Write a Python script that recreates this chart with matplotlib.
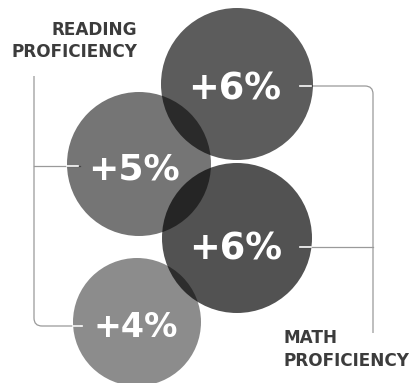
import matplotlib
matplotlib.use("Agg")
import matplotlib.pyplot as plt
from matplotlib.patches import Circle, PathPatch
from matplotlib.path import Path

# ─── data ──────────────────────────────────────────────────────
values   = [6, 5, 6, 4]                      # % gain shown in each bubble
subjects = ["math", "reading", "math", "reading"]
reading_label = ["READING", "PROFICIENCY"]
math_label    = ["MATH", "PROFICIENCY"]

# ─── layout (pixels, y down) ──────────────────────────────────
centers  = [(237, 84), (139, 164), (237, 238), (137, 322)]
radii    = [76, 72, 75, 64]
alphas   = [0.64, 0.54, 0.68, 0.45]
fsizes   = [26.5, 26, 26.5, 24]
text_xy  = [(235, 100), (134, 180), (236, 259), (136, 337)]   # baseline
W, H = 415, 383
LINE = "#9a9a9a"
FONT = "DejaVu Sans"
LABEL_FS = 12.2


def rounded(pts, r=8):
    """polyline with rounded inner corners"""
    verts, codes = [pts[0]], [Path.MOVETO]
    for i in range(1, len(pts) - 1):
        (x0, y0), (x1, y1), (x2, y2) = pts[i - 1], pts[i], pts[i + 1]
        d1 = ((x1 - x0) ** 2 + (y1 - y0) ** 2) ** 0.5
        d2 = ((x2 - x1) ** 2 + (y2 - y1) ** 2) ** 0.5
        a = (x1 - (x1 - x0) / d1 * r, y1 - (y1 - y0) / d1 * r)
        b = (x1 + (x2 - x1) / d2 * r, y1 + (y2 - y1) / d2 * r)
        verts += [a, (x1, y1), b]
        codes += [Path.LINETO, Path.CURVE3, Path.CURVE3]
    verts.append(pts[-1])
    codes.append(Path.LINETO)
    return Path(verts, codes)


fig = plt.figure(figsize=(W / 100, H / 100), dpi=100)
ax = fig.add_axes([0, 0, 1, 1])
ax.set_xlim(0, W)
ax.set_ylim(H, 0)
ax.set_aspect("equal")
ax.axis("off")

# connectors (behind bubbles)
left = rounded([(34, 76), (34, 326), (80, 326)])
right = rounded([(300, 86), (373, 86), (373, 333)])
for p in (left, right):
    ax.add_patch(PathPatch(p, fill=False, ec=LINE, lw=0.9, zorder=1))
ax.plot([34, 80], [166, 166], color=LINE, lw=0.9, zorder=1)
ax.plot([300, 373], [247, 247], color=LINE, lw=0.9, zorder=1)

# bubbles
for (cx, cy), r, a in zip(centers, radii, alphas):
    ax.add_patch(Circle((cx, cy), r, fc="black", ec="none", alpha=a, zorder=2))

# white ticks where connectors enter the bubbles
for x0, x1, y in [(67, 78, 166), (73, 82, 326), (300, 311, 86), (300, 311, 247)]:
    ax.plot([x0, x1], [y, y], color="white", lw=1.2, zorder=3)

# values
for (tx, ty), v, fs in zip(text_xy, values, fsizes):
    ax.text(tx, ty, f"+{v}%", color="white", fontsize=fs,
            fontweight="bold", family=FONT, ha="center", va="baseline",
            zorder=4)

# group labels
for (x, y), s in zip([(137, 35), (137, 57)], reading_label):
    ax.text(x, y, s, ha="right", va="baseline", fontsize=LABEL_FS,
            fontweight="bold", color="#3c3c3c", family=FONT)
for (x, y), s in zip([(283, 343), (283, 366)], math_label):
    ax.text(x, y, s, ha="left", va="baseline", fontsize=LABEL_FS,
            fontweight="bold", color="#3c3c3c", family=FONT)

fig.savefig("out.png", dpi=100)
